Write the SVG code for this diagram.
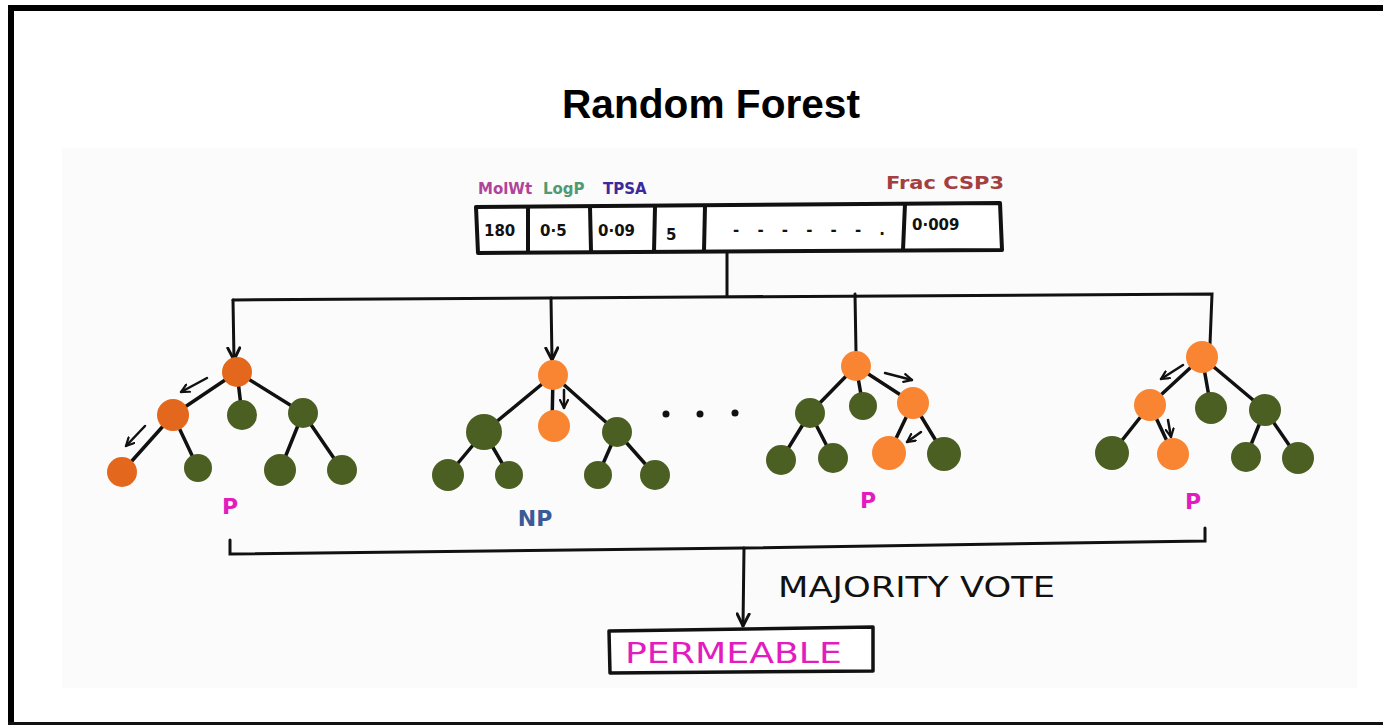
<svg xmlns="http://www.w3.org/2000/svg" width="1383" height="725" viewBox="0 0 1383 725">
<defs>
<style>
.edge{stroke:#111;stroke-width:3.5;stroke-linecap:round;fill:none}
.conn{stroke:#111;stroke-width:3;stroke-linecap:round;fill:none}
.small{stroke:#111;stroke-width:2.5;stroke-linecap:round;fill:none}
.or1{fill:#e3671c}
.or{fill:#f98533}
.gr{fill:#4b5f22}
.hand{font-family:"DejaVu Sans",sans-serif;font-weight:bold}
.thin{font-family:"DejaVu Sans",sans-serif;font-weight:normal}
.cell{font-family:"DejaVu Sans",sans-serif;font-weight:bold;font-size:15px;fill:#111}
.pk{fill:#e21cbe}
</style>
<marker id="ah" viewBox="0 0 10 10" refX="9" refY="5" markerWidth="5" markerHeight="5" orient="auto" markerUnits="strokeWidth">
<path d="M1,1 L9,5 L1,9" fill="none" stroke="#111" stroke-width="2" stroke-linecap="round"/>
</marker>
<marker id="ahs" viewBox="0 0 10 10" refX="9" refY="5" markerWidth="4" markerHeight="4" orient="auto" markerUnits="strokeWidth">
<path d="M1,1 L9,5 L1,9" fill="none" stroke="#111" stroke-width="2.2" stroke-linecap="round"/>
</marker>
</defs>
<rect width="1383" height="725" fill="#ffffff"/>
<rect x="62" y="148" width="1295" height="540" fill="#fbfbfb"/>
<g id="frame">
<rect x="8" y="5" width="1375" height="6" fill="#000"/>
<rect x="8" y="5" width="6" height="720" fill="#000"/>
<rect x="8" y="722" width="1375" height="3" fill="#111"/>
</g>
<g id="title">
<text x="711" y="118" text-anchor="middle" font-family="'Liberation Sans',Arial,sans-serif" font-weight="bold" font-size="40" fill="#000" textLength="298" lengthAdjust="spacingAndGlyphs">Random Forest</text>
</g>
<g id="features">
<text x="478" y="194" class="hand" font-size="15" fill="#b0449a">MolWt</text>
<text x="543" y="194" class="hand" font-size="15" fill="#4f9a72">LogP</text>
<text x="603" y="194" class="hand" font-size="15" fill="#3b2a9c">TPSA</text>
<text x="886" y="189" class="hand" font-size="17" fill="#a3403f" textLength="118" lengthAdjust="spacingAndGlyphs">Frac CSP3</text>
<path d="M476,207 L1000,203 L1002,250 L478,253 Z" fill="#fff" stroke="#111" stroke-width="4" stroke-linejoin="round"/>
<path d="M528,208 L528,252 M590,207 L591,251 M655,207 L654,252 M705,206 L704,251 M905,204 L903,250" stroke="#111" stroke-width="4" fill="none"/>
<text x="484" y="236" class="cell">180</text>
<text x="540" y="236" class="cell">0·5</text>
<text x="598" y="236" class="cell">0·09</text>
<text x="666" y="240" class="cell" font-size="20">5</text>
<text x="733" y="235" class="cell" font-size="18" textLength="152">- - - - - - .</text>
<text x="912" y="230" class="cell" font-size="13">0·009</text>
</g>
<g id="connectors">
<path class="conn" d="M727,253 L727,296"/>
<path class="conn" d="M233,300 L700,297 L1212,294 L1210,344"/>
<path class="conn" d="M233,300 L234,360" marker-end="url(#ah)"/>
<path class="conn" d="M551,298 L552,360" marker-end="url(#ah)"/>
<path class="conn" d="M855,294 L856,352"/>
<path class="conn" d="M230,540 L230,554 L744,548 L1205,541 L1205,528"/>
<path class="conn" d="M744,548 L743,626" marker-end="url(#ah)"/>
</g>
<g id="tree1">
<path class="edge" d="M237,372 L173,415 M237,372 L242,415 M237,372 L303,413 M173,415 L122,472 M173,415 L198,468 M303,413 L280,470 M303,413 L342,470"/>
<path class="small" d="M207,378 L181,392" marker-end="url(#ahs)"/>
<path class="small" d="M145,426 L126,446" marker-end="url(#ahs)"/>
<circle class="or1" cx="237" cy="372" r="15"/>
<circle class="or1" cx="173" cy="415" r="16"/>
<circle class="gr" cx="242" cy="415" r="15"/>
<circle class="gr" cx="303" cy="413" r="15"/>
<circle class="or1" cx="122" cy="472" r="15"/>
<circle class="gr" cx="198" cy="468" r="14"/>
<circle class="gr" cx="280" cy="470" r="16"/>
<circle class="gr" cx="342" cy="470" r="15"/>
<text x="230" y="514" class="hand pk" font-size="22" text-anchor="middle">P</text>
</g>
<g id="tree2">
<path class="edge" d="M553,375 L484,432 M553,375 L552,426 M553,375 L617,432 M484,432 L448,475 M484,432 L509,475 M617,432 L598,475 M617,432 L655,475"/>
<path class="small" d="M564,390 L564,408" marker-end="url(#ahs)"/>
<circle class="or" cx="553" cy="375" r="15"/>
<circle class="or" cx="554" cy="426" r="16"/>
<circle class="gr" cx="484" cy="432" r="18"/>
<circle class="gr" cx="617" cy="432" r="15"/>
<circle class="gr" cx="448" cy="475" r="16"/>
<circle class="gr" cx="509" cy="475" r="14"/>
<circle class="gr" cx="598" cy="475" r="14"/>
<circle class="gr" cx="655" cy="475" r="15"/>
<text x="535" y="526" class="hand" font-size="22" fill="#3b5a98" text-anchor="middle">NP</text>
</g>
<g id="ellipsis">
<circle cx="666" cy="414" r="3.5" fill="#111"/>
<circle cx="700" cy="414" r="3.5" fill="#111"/>
<circle cx="735" cy="413" r="3.5" fill="#111"/>
</g>
<g id="tree3">
<path class="edge" d="M856,366 L810,413 M856,366 L863,406 M856,366 L913,403 M810,413 L781,460 M810,413 L833,458 M913,403 L889,453 M913,403 L944,454"/>
<path class="small" d="M885,373 L912,380" marker-end="url(#ahs)"/>
<path class="small" d="M921,432 L907,442" marker-end="url(#ahs)"/>
<circle class="or" cx="856" cy="366" r="15"/>
<circle class="or" cx="913" cy="403" r="16"/>
<circle class="gr" cx="810" cy="413" r="15"/>
<circle class="gr" cx="863" cy="406" r="14"/>
<circle class="gr" cx="781" cy="460" r="15"/>
<circle class="gr" cx="833" cy="458" r="15"/>
<circle class="or" cx="889" cy="453" r="17"/>
<circle class="gr" cx="944" cy="454" r="17"/>
<text x="868" y="508" class="hand pk" font-size="22" text-anchor="middle">P</text>
</g>
<g id="tree4">
<path class="edge" d="M1202,357 L1150,405 M1202,357 L1211,408 M1202,357 L1265,410 M1150,405 L1112,453 M1150,405 L1173,454 M1265,410 L1246,457 M1265,410 L1298,458"/>
<path class="small" d="M1183,365 L1161,379" marker-end="url(#ahs)"/>
<path class="small" d="M1168,420 L1171,437" marker-end="url(#ahs)"/>
<circle class="or" cx="1202" cy="357" r="16"/>
<circle class="or" cx="1150" cy="405" r="16"/>
<circle class="gr" cx="1211" cy="408" r="16"/>
<circle class="gr" cx="1265" cy="410" r="16"/>
<circle class="gr" cx="1112" cy="453" r="17"/>
<circle class="or" cx="1173" cy="454" r="16"/>
<circle class="gr" cx="1246" cy="457" r="15"/>
<circle class="gr" cx="1298" cy="458" r="16"/>
<text x="1193" y="509" class="hand pk" font-size="22" text-anchor="middle">P</text>
</g>
<g id="vote-label">
<text x="778" y="597" class="thin" font-size="29" fill="#111" textLength="277" lengthAdjust="spacingAndGlyphs">MAJORITY VOTE</text>
</g>
<g id="result">
<path d="M609,631 L873,627 L873,671 L610,673 Z" fill="#fff" stroke="#111" stroke-width="3.5" stroke-linejoin="round"/>
<text x="625" y="663" class="thin pk" font-size="29" textLength="217" lengthAdjust="spacingAndGlyphs">PERMEABLE</text>
</g>
</svg>
